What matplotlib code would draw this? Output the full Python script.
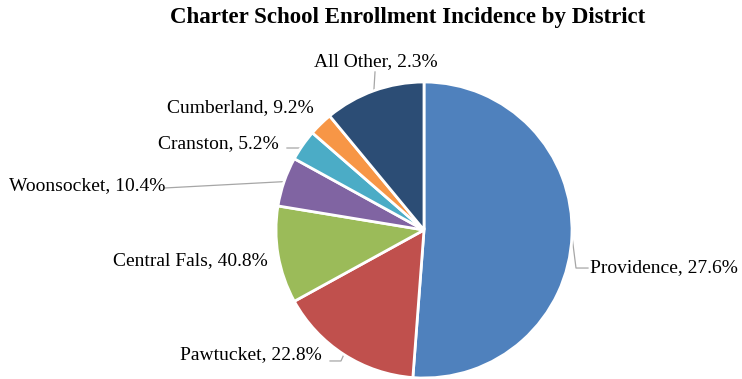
import matplotlib.pyplot as plt
import numpy as np

plt.rcParams['font.family'] = ['Liberation Serif', 'DejaVu Serif']

# districts in clockwise order starting from 12 o'clock
districts = ['Providence', 'Pawtucket', 'Central Fals', 'Woonsocket',
             'Cranston', 'Cumberland', 'All Other']
# share of charter enrollment (slice size)
enrollment_share = [51.2, 15.8, 10.6, 5.4, 3.4, 2.6, 11.0]
# incidence rate shown in the labels
incidence = [27.6, 22.8, 40.8, 10.4, 5.2, 9.2, 2.3]
colors = ['#4F81BD', '#C0504D', '#9BBB59', '#8064A2',
          '#4BACC6', '#F79646', '#2C4D75']

W, H = 742, 379
cx, cy, R = 424, 230, 148   # pie centre / radius in pixels

fig = plt.figure(figsize=(W / 100, H / 100), dpi=100)
ax = fig.add_axes([0, 0, 1, 1])

wedges, _ = ax.pie(enrollment_share, colors=colors, startangle=90,
                   counterclock=False, radius=1.0,
                   wedgeprops=dict(edgecolor='white', linewidth=2.0))

# pie() resets the limits, so set them afterwards
ax.set_aspect('auto')
ax.set_xlim((0 - cx) / R, (W - cx) / R)
ax.set_ylim((cy - H) / R, cy / R)
ax.axis('off')

# label placement: (x, y, ha, leader points between text and wedge)
label_pos = {
    'Providence':   (1.122, -0.257, 'left',  [(1.108, -0.257), (1.027, -0.257)]),
    'Pawtucket':    (-0.689, -0.845, 'right', [(-0.635, -0.885), (-0.561, -0.885)]),
    'Central Fals': (-1.054, -0.209, 'right', None),
    'Woonsocket':   (-1.75, 0.297, 'right',  [(-1.75, 0.284)]),
    'Cranston':     (-0.98, 0.581, 'right',  [(-0.926, 0.554), (-0.838, 0.554)]),
    'Cumberland':   (-0.743, 0.824, 'right', None),
    'All Other':    (-0.324, 1.135, 'center', [(-0.331, 1.068)]),
}

for w, name, val in zip(wedges, districts, incidence):
    x, y, ha, leader = label_pos[name]
    ax.text(x, y, f'{name}, {val}%', ha=ha, va='center', fontsize=14,
            color='black')
    if leader:
        mid = np.deg2rad((w.theta1 + w.theta2) / 2)
        edge = (np.cos(mid), np.sin(mid))
        pts = leader + [edge]
        ax.plot([p[0] for p in pts], [p[1] for p in pts],
                color='#a6a6a6', linewidth=0.9, zorder=0)

fig.text(408 / W, 1 - 17 / H, 'Charter School Enrollment Incidence by District',
         ha='center', va='center', fontsize=16.5, fontweight='bold')

fig.savefig('out.png', dpi=100)
